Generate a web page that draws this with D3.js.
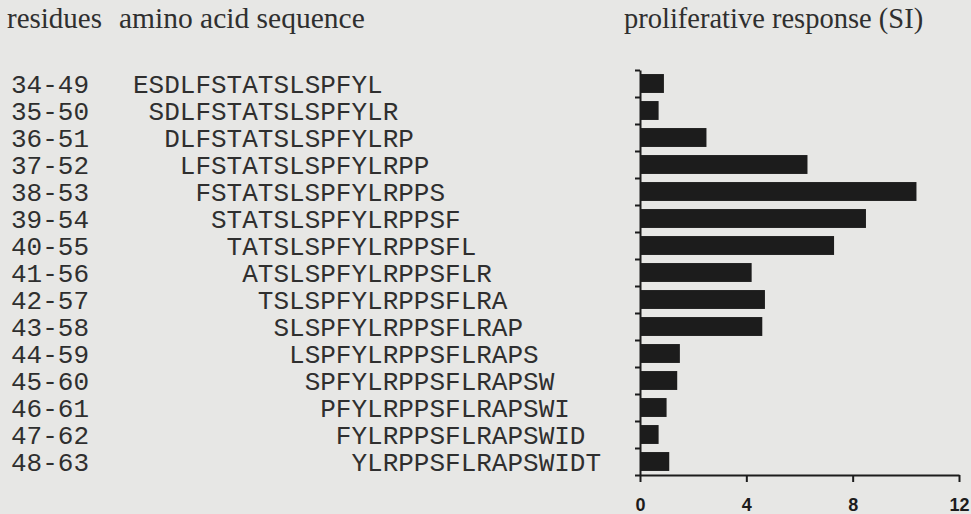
<!DOCTYPE html>
<html>
<head>
<meta charset="utf-8">
<script src="https://cdn.jsdelivr.net/npm/d3@7"></script>
<style>
  html, body { margin: 0; padding: 0; background: #e7e7e5; }
  svg { display: block; }
</style>
</head>
<body>
<svg id="chart" width="971" height="514"></svg>
<script>
// Overlapping 16-mer peptides and their proliferative response (stimulation index)
const residues = ["34-49","35-50","36-51","37-52","38-53","39-54","40-55","41-56",
                  "42-57","43-58","44-59","45-60","46-61","47-62","48-63"];
const sequences = ["ESDLFSTATSLSPFYL","SDLFSTATSLSPFYLR","DLFSTATSLSPFYLRP","LFSTATSLSPFYLRPP",
                   "FSTATSLSPFYLRPPS","STATSLSPFYLRPPSF","TATSLSPFYLRPPSFL","ATSLSPFYLRPPSFLR",
                   "TSLSPFYLRPPSFLRA","SLSPFYLRPPSFLRAP","LSPFYLRPPSFLRAPS","SPFYLRPPSFLRAPSW",
                   "PFYLRPPSFLRAPSWI","FYLRPPSFLRAPSWID","YLRPPSFLRAPSWIDT"];
const siValues = [0.9, 0.7, 2.5, 6.3, 10.4, 8.5, 7.3, 4.2, 4.7, 4.6, 1.5, 1.4, 1.0, 0.7, 1.1];
const xTicks = [0, 4, 8, 12];
const headers = { residues: "residues", sequence: "amino acid sequence", response: "proliferative response (SI)" };

const ink = "#1c1c1c";
const textInk = "#2f2f2f";
const svg = d3.select("#chart");

const plot = { left: 640, right: 959, top: 70, bottom: 475 };

const x = d3.scaleLinear().domain([0, 12]).range([plot.left, plot.right]);
const y = d3.scaleBand().domain(residues).range([plot.top, plot.bottom]).paddingInner(0.3).paddingOuter(0.15);
// boundaries between rows, used for the left axis tick marks
const yEdge = d3.scaleLinear().domain([0, residues.length]).range([plot.top, plot.bottom]);

// column headers
const serif = "'Liberation Serif', 'Times New Roman', serif";
svg.append("text").attr("x", 7).attr("y", 28).text(headers.residues)
  .attr("font-family", serif).attr("font-size", 29).attr("fill", textInk);
svg.append("text").attr("x", 119).attr("y", 28).text(headers.sequence)
  .attr("font-family", serif).attr("font-size", 29.5).attr("fill", textInk);
svg.append("text").attr("x", 624).attr("y", 28).text(headers.response)
  .attr("font-family", serif).attr("font-size", 28.5).attr("fill", textInk);

// residue ranges and sequences in a monospace face
const mono = "'Liberation Mono', 'Courier New', monospace";
const monoSize = 26;
const probe = svg.append("text").attr("font-family", mono).attr("font-size", monoSize).text("MMMMMMMMMM");
const charW = probe.node().getComputedTextLength() / 10;
probe.remove();

const baselineShift = 9;
const rows = svg.append("g");
rows.selectAll("text.res").data(residues).join("text")
  .attr("class", "res")
  .attr("x", 11)
  .attr("y", d => y(d) + y.bandwidth() / 2 + baselineShift)
  .attr("font-family", mono).attr("font-size", monoSize).attr("fill", textInk)
  .text(d => d);

// each peptide is offset by its starting residue, one character per residue
rows.selectAll("text.seq").data(sequences).join("text")
  .attr("class", "seq")
  .attr("x", (d, i) => 133 + (parseInt(residues[i]) - parseInt(residues[0])) * charW)
  .attr("y", (d, i) => y(residues[i]) + y.bandwidth() / 2 + baselineShift)
  .attr("font-family", mono).attr("font-size", monoSize).attr("fill", textInk)
  .text(d => d);

// bars
svg.append("g").selectAll("rect").data(siValues).join("rect")
  .attr("x", x(0))
  .attr("y", (d, i) => y(residues[i]))
  .attr("width", d => x(d) - x(0))
  .attr("height", y.bandwidth())
  .attr("fill", ink);

// left axis: ticks at row boundaries
const yAxis = svg.append("g").attr("transform", `translate(${plot.left},0)`)
  .call(d3.axisLeft(yEdge).tickValues(d3.range(residues.length + 1)).tickSize(5).tickSizeOuter(0).tickFormat(""));
yAxis.selectAll("path, line").attr("stroke", ink).attr("stroke-width", 2);

// bottom axis
const xAxis = svg.append("g").attr("transform", `translate(0,${plot.bottom})`)
  .call(d3.axisBottom(x).tickValues(xTicks).tickSize(7).tickSizeOuter(0).tickPadding(16));
xAxis.selectAll("path, line").attr("stroke", ink).attr("stroke-width", 2);
xAxis.selectAll("text")
  .attr("font-family", "'Liberation Sans', Arial, sans-serif")
  .attr("font-weight", "bold").attr("font-size", 18).attr("fill", ink);
</script>
</body>
</html>
